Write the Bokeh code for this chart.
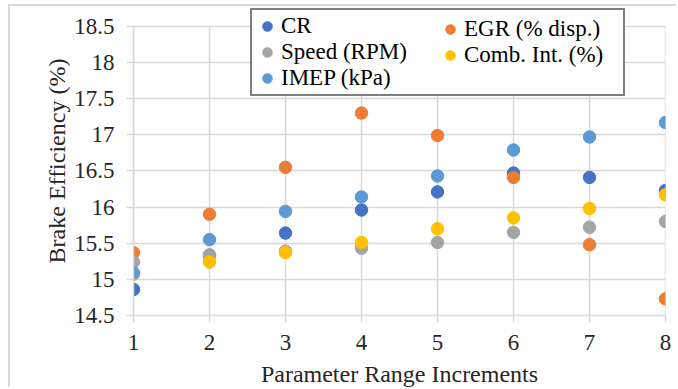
from bokeh.plotting import figure
from bokeh.models import Legend, LegendItem, FixedTicker, Title
from bokeh.embed import file_html
from bokeh.resources import INLINE

x = [1, 2, 3, 4, 5, 6, 7, 8]
cr = [14.86, 15.33, 15.64, 15.96, 16.21, 16.47, 16.41, 16.23]
egr = [15.37, 15.90, 16.55, 17.30, 16.99, 16.41, 15.48, 14.73]
speed = [15.24, 15.34, 15.39, 15.43, 15.51, 15.65, 15.72, 15.80]
comb = [15.07, 15.24, 15.37, 15.51, 15.70, 15.85, 15.98, 16.17]
imep = [15.09, 15.55, 15.94, 16.14, 16.43, 16.79, 16.97, 17.17]

names = ["CR", "EGR (% disp.)", "Speed (RPM)", "Comb. Int. (%)", "IMEP (kPa)"]
colors = ["#4472C4", "#ED7D31", "#A5A5A5", "#FFC000", "#5B9BD5"]
series = [cr, egr, speed, comb, imep]
y_ticks = [14.5, 15, 15.5, 16, 16.5, 17, 17.5, 18, 18.5]

FONT = "Liberation Serif, serif"
GRID = "#D9D9D9"

# headroom above 18.5 keeps the legend box (which rises above the plot area) unclipped
p = figure(width=668, height=383, x_range=(1, 8), y_range=(14.5, 18.775),
           output_backend="svg", toolbar_location=None,
           min_border_left=123, min_border_right=13, min_border_top=0,
           min_border_bottom=72)
p.margin = (4, 0, 0, 8)
p.styles = {"border-top": "2px solid #D9D9D9", "border-left": "2px solid #D9D9D9"}
p.outline_line_color = None

p.xaxis.ticker = FixedTicker(ticks=x)
p.yaxis.ticker = FixedTicker(ticks=y_ticks)
p.yaxis.bounds = (y_ticks[0], y_ticks[-1])
for ax in (p.xaxis[0], p.yaxis[0]):
    ax.axis_line_color = GRID
    ax.axis_line_width = 1.5
    ax.major_tick_line_color = GRID
    ax.major_tick_line_width = 1.5
    ax.major_tick_out = 7
    ax.major_tick_in = 0
    ax.minor_tick_line_color = None
    ax.major_label_text_font = FONT
    ax.major_label_text_font_size = "23px"
    ax.major_label_text_font_style = "normal"
    ax.major_label_text_color = "#262626"
    ax.axis_label_text_font = FONT
    ax.axis_label_text_font_size = "24px"
    ax.axis_label_text_font_style = "normal"
    ax.axis_label_text_color = "#262626"
p.xaxis.axis_label = "Parameter Range Increments"
p.yaxis.major_label_standoff = 12
p.xaxis.major_label_standoff = 12
p.xaxis.axis_label_standoff = 8

# y-axis title, centred on the 14.5-18.5 span rather than on the taller frame
ytitle = Title(text="Brake Efficiency (%)", align="center", offset=-10, standoff=3,
               text_font=FONT, text_font_size="24px", text_font_style="normal",
               text_color="#262626")
p.add_layout(ytitle, "left")

p.xgrid.grid_line_color = None
p.ygrid.grid_line_color = GRID
p.ygrid.grid_line_width = 1.5
p.segment(x0=x, y0=[y_ticks[0]] * len(x), x1=x, y1=[y_ticks[-1]] * len(x),
          line_color=GRID, line_width=1.5)

rend = {}
for name, col, ys in zip(names, colors, series):
    rend[name] = p.scatter(x, ys, size=12.5, marker="circle", fill_color=col, line_color=col)

common = dict(label_text_font=FONT, label_text_font_size="23px", label_text_font_style="normal",
              label_text_color="#000000", padding=3, spacing=0, label_standoff=2,
              glyph_width=24, glyph_height=26, margin=0)

col1 = ["CR", "Speed (RPM)", "IMEP (kPa)"]
col2 = ["EGR (% disp.)", "Comb. Int. (%)"]

leg_a = Legend(items=[LegendItem(label=n, renderers=[rend[n]]) for n in col1],
               location=(117, 219), border_line_color="black", border_line_width=2,
               label_width=339, background_fill_alpha=1, **common)
leg_b = Legend(items=[LegendItem(label=n, renderers=[rend[n]]) for n in col2],
               location=(305, 247), border_line_color=None,
               background_fill_alpha=0, **common)
p.add_layout(leg_a, "center")
p.add_layout(leg_b, "center")

open("out.html", "w").write(file_html(p, INLINE))
